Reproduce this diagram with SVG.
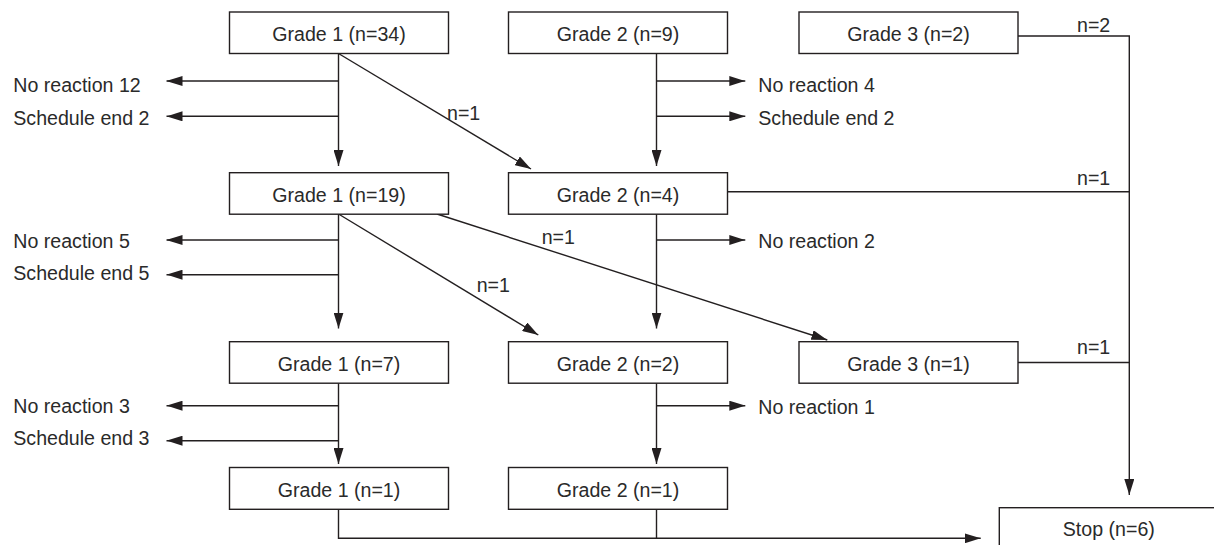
<svg xmlns="http://www.w3.org/2000/svg" width="1214" height="545" viewBox="0 0 1214 545">
<style>
.box{fill:#fff;stroke:#231f20;stroke-width:1.4}
.t{font-family:"Liberation Sans",Arial,sans-serif;font-size:19.6px;fill:#2a2a2a}
.c{text-anchor:middle}
.ln{fill:none;stroke:#231f20;stroke-width:1.4}
.ar{marker-end:url(#ah)}
</style>
<defs>
<marker id="ah" markerUnits="userSpaceOnUse" markerWidth="16" markerHeight="10" refX="16" refY="5" orient="auto" viewBox="0 0 16 10">
<path d="M0,0 L16,5 L0,10 Z" fill="#231f20"/>
</marker>
</defs>
<rect width="1214" height="545" fill="#fff"/>

<g id="connectors">
<!-- column 1 -->
<line class="ln ar" x1="338.5" y1="53.5" x2="338.5" y2="166"/>
<line class="ln ar" x1="338.5" y1="81" x2="166.5" y2="81"/>
<line class="ln ar" x1="338.5" y1="116.3" x2="166.5" y2="116.3"/>
<line class="ln ar" x1="338.5" y1="53.5" x2="531" y2="169"/>
<line class="ln ar" x1="338.5" y1="214" x2="338.5" y2="328.5"/>
<line class="ln ar" x1="338.5" y1="240" x2="166.5" y2="240"/>
<line class="ln ar" x1="338.5" y1="274.7" x2="166.5" y2="274.7"/>
<line class="ln ar" x1="338.5" y1="214" x2="538.3" y2="335"/>
<line class="ln ar" x1="437" y1="214" x2="827.3" y2="340"/>
<line class="ln ar" x1="338.5" y1="383.3" x2="338.5" y2="464"/>
<line class="ln ar" x1="338.5" y1="405.7" x2="166.5" y2="405.7"/>
<line class="ln ar" x1="338.5" y1="440.7" x2="166.5" y2="440.7"/>
<!-- column 2 -->
<line class="ln ar" x1="656.5" y1="53.5" x2="656.5" y2="166"/>
<line class="ln ar" x1="656.5" y1="81" x2="745.3" y2="81"/>
<line class="ln ar" x1="656.5" y1="116.3" x2="745.3" y2="116.3"/>
<line class="ln ar" x1="656.5" y1="214" x2="656.5" y2="328.5"/>
<line class="ln ar" x1="656.5" y1="240" x2="745.3" y2="240"/>
<line class="ln ar" x1="656.5" y1="383.3" x2="656.5" y2="464"/>
<line class="ln ar" x1="656.5" y1="405.7" x2="745.3" y2="405.7"/>
<!-- to stop -->
<polyline class="ln ar" points="1018,36 1129.3,36 1129.3,495"/>
<line class="ln" x1="727.3" y1="191.7" x2="1129.3" y2="191.7"/>
<line class="ln" x1="1018" y1="362.5" x2="1129.3" y2="362.5"/>
<polyline class="ln ar" points="338.5,509.5 338.5,538.3 980.7,538.3"/>
<line class="ln" x1="656.5" y1="509.5" x2="656.5" y2="538.3"/>
<!-- connector labels -->
<text class="t" x="447" y="120">n=1</text>
<text class="t" x="476.7" y="291.7">n=1</text>
<text class="t" x="541.7" y="244">n=1</text>
<text class="t" x="1077" y="31.7">n=2</text>
<text class="t" x="1077" y="185">n=1</text>
<text class="t" x="1077" y="354">n=1</text>
</g>

<g id="outcomes">
<text class="t" x="13.3" y="92">No reaction 12</text>
<text class="t" x="13.3" y="124.5">Schedule end 2</text>
<text class="t" x="13.3" y="247.7">No reaction 5</text>
<text class="t" x="13.3" y="280">Schedule end 5</text>
<text class="t" x="13.3" y="413.3">No reaction 3</text>
<text class="t" x="13.3" y="445">Schedule end 3</text>
<text class="t" x="758.3" y="92">No reaction 4</text>
<text class="t" x="758.3" y="124.5">Schedule end 2</text>
<text class="t" x="758.3" y="247.7">No reaction 2</text>
<text class="t" x="758.3" y="414">No reaction 1</text>
</g>

<g id="g1-34"><rect class="box" x="229.5" y="12" width="219" height="41.5"/><text class="t c" x="339" y="41.3">Grade 1 (n=34)</text></g>
<g id="g2-9"><rect class="box" x="508.5" y="12" width="219" height="41.5"/><text class="t c" x="618" y="41.3">Grade 2 (n=9)</text></g>
<g id="g3-2"><rect class="box" x="799" y="12" width="219" height="41.5"/><text class="t c" x="908.5" y="41.3">Grade 3 (n=2)</text></g>
<g id="g1-19"><rect class="box" x="229.5" y="172.7" width="219" height="41.5"/><text class="t c" x="339" y="201.5">Grade 1 (n=19)</text></g>
<g id="g2-4"><rect class="box" x="508.5" y="172.7" width="219" height="41.5"/><text class="t c" x="618" y="201.5">Grade 2 (n=4)</text></g>
<g id="g1-7"><rect class="box" x="229.5" y="341.7" width="219" height="41.5"/><text class="t c" x="339" y="370.5">Grade 1 (n=7)</text></g>
<g id="g2-2"><rect class="box" x="508.5" y="341.7" width="219" height="41.5"/><text class="t c" x="618" y="370.5">Grade 2 (n=2)</text></g>
<g id="g3-1"><rect class="box" x="799" y="341.7" width="219" height="41.5"/><text class="t c" x="908.5" y="370.5">Grade 3 (n=1)</text></g>
<g id="g1-1"><rect class="box" x="229.5" y="467.5" width="219" height="41.8"/><text class="t c" x="339" y="496.5">Grade 1 (n=1)</text></g>
<g id="g2-1"><rect class="box" x="508.5" y="467.5" width="219" height="41.8"/><text class="t c" x="618" y="496.5">Grade 2 (n=1)</text></g>
<g id="stop"><rect class="box" x="999.3" y="507.7" width="219" height="41.5"/><text class="t c" x="1108.8" y="535.7">Stop (n=6)</text></g>
</svg>
